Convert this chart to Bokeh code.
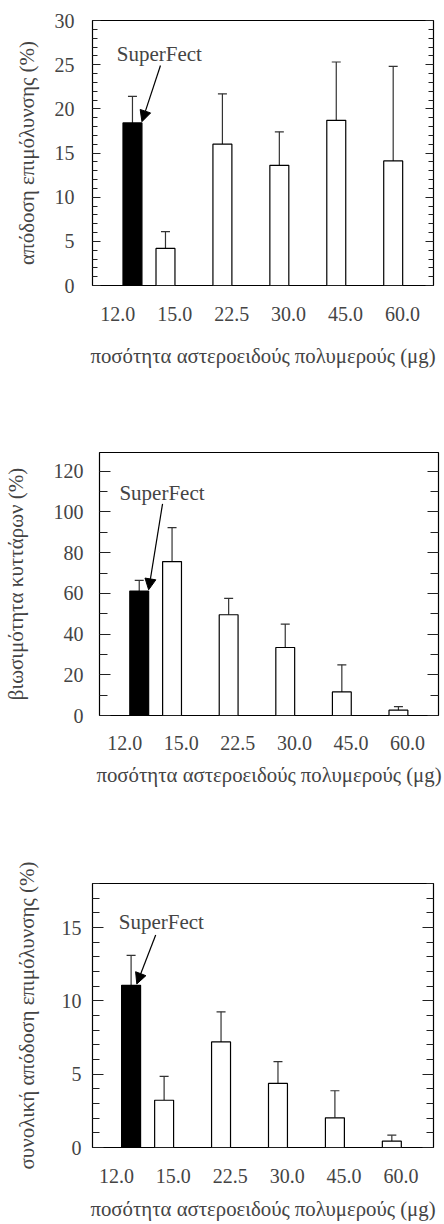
from bokeh.plotting import figure
from bokeh.layouts import column, row
from bokeh.models import (ColumnDataSource, LinearAxis, FixedTicker, SingleIntervalTicker,
                          Whisker, TeeHead, Arrow, NormalHead, Label, Range1d)
from bokeh.embed import file_html
from bokeh.resources import INLINE

# ---------------- data ----------------
doses = ["12.0", "15.0", "22.5", "30.0", "45.0", "60.0"]
x_title = "ποσότητα αστεροειδούς πολυμερούς (μg)"
ref_label = "SuperFect"

eff_title = "απόδοση επιμόλυνσης (%)"
eff = [18.4, 4.2, 16.0, 13.6, 18.7, 14.1]
eff_err = [3.0, 1.9, 5.7, 3.8, 6.6, 10.7]

viab_title = "βιωσιμότητα κυττάρων (%)"
viab = [61.1, 75.6, 49.5, 33.4, 11.6, 2.6]
viab_err = [5.3, 16.7, 8.0, 11.5, 13.3, 1.8]

tot_title = "συνολική απόδοση επιμόλυνσης (%)"
tot = [11.06, 3.22, 7.2, 4.37, 2.02, 0.43]
tot_err = [2.04, 1.63, 2.05, 1.48, 1.85, 0.41]

FONT = "Liberation Serif, Times New Roman, serif"
TICK_FS = "20px"
YTITLE_FS = "21px"
XTITLE_FS = "20.8px"
ANN_FS = "21px"

BAR_W = 0.333
REF_OFF = 0.258
OTHER_OFF = -0.162
XSPAN = 5.99


def panel(vals, errs, ytitle, ymax, interval, nminor, height, borders, xstart,
          tick_major, tick_minor, ystand, ylab_stand, xstand, xlab_stand,
          text_xy, arrow_start, tip_dx):
    top_b, bottom_b, left_b, right_b = borders
    p = figure(width=444, height=height, output_backend="svg", toolbar_location=None,
               x_range=Range1d(xstart, xstart + XSPAN), y_range=Range1d(0, ymax),
               x_axis_type=None, y_axis_type=None,
               min_border_top=top_b, min_border_bottom=bottom_b,
               min_border_left=left_b, min_border_right=right_b)
    p.outline_line_color = "black"
    p.outline_line_width = 1.2
    p.background_fill_color = "white"
    p.border_fill_color = "white"

    xs = [i + (REF_OFF if i == 0 else OTHER_OFF) for i in range(len(doses))]
    fills = ["black" if i == 0 else "white" for i in range(len(doses))]
    src = ColumnDataSource(dict(x=xs, top=vals, upper=[v + e for v, e in zip(vals, errs)],
                                fill=fills))
    w = Whisker(source=src, base="x", lower="top", upper="upper", dimension="height",
                line_color="#333333", line_width=1.2,
                upper_head=TeeHead(size=9, line_color="#333333", line_width=1.2),
                lower_head=None)
    p.add_layout(w)
    p.vbar(x="x", top="top", bottom=0, width=BAR_W, source=src, fill_color="fill",
           line_color="black", line_width=1.2)

    ticker = SingleIntervalTicker(interval=interval, num_minor_ticks=nminor)
    yl = LinearAxis(ticker=ticker, axis_label=ytitle,
                    axis_label_text_font=FONT, axis_label_text_font_size=YTITLE_FS,
                    axis_label_text_font_style="normal",
                    major_label_text_font=FONT, major_label_text_font_size=TICK_FS,
                    major_tick_in=tick_major, major_tick_out=0,
                    minor_tick_in=tick_minor, minor_tick_out=0,
                    major_tick_line_color="#222222", minor_tick_line_color="#222222",
                    major_label_standoff=ystand, axis_label_standoff=ylab_stand,
                    axis_line_color=None)
    p.add_layout(yl, "left")
    yr = LinearAxis(ticker=ticker, major_label_text_font_size="1px",
                    major_label_text_color=None,
                    major_tick_in=tick_major, major_tick_out=0,
                    minor_tick_in=tick_minor, minor_tick_out=0,
                    major_tick_line_color="#222222", minor_tick_line_color="#222222",
                    major_label_standoff=0, axis_line_color=None)
    p.add_layout(yr, "right")

    xl = LinearAxis(ticker=FixedTicker(ticks=list(range(len(doses)))),
                    major_label_overrides={i: d for i, d in enumerate(doses)},
                    axis_label=x_title, axis_label_text_font=FONT,
                    axis_label_text_font_size=XTITLE_FS, axis_label_text_font_style="normal",
                    major_label_text_font=FONT, major_label_text_font_size=TICK_FS,
                    major_tick_in=0, major_tick_out=0, minor_tick_in=0, minor_tick_out=0,
                    major_label_standoff=xstand, axis_label_standoff=xlab_stand,
                    axis_line_color=None)
    p.add_layout(xl, "below")
    p.xgrid.visible = False
    p.ygrid.visible = False

    tx, ty = text_xy
    ax, ay = arrow_start
    p.add_layout(Label(x=tx, y=ymax * ty, text=ref_label, text_font=FONT,
                       text_font_size=ANN_FS, text_align="center", text_baseline="middle"))
    p.add_layout(Arrow(x_start=ax, y_start=ymax * ay, x_end=xs[0] + tip_dx,
                       y_end=vals[0] + ymax * 0.005,
                       line_color="black", line_width=1.2,
                       end=NormalHead(size=11, fill_color="black", line_color="black")))
    return p


p1 = panel(eff, eff_err, eff_title, 30, 5, 5, 380, (20, 95, 92, 11), -0.444, 8, 5,
           18, 13, 21, 20, (0.73, 0.873), (0.75, 0.83), BAR_W / 2)
p2 = panel(viab, viab_err, viab_title, 129.2, 20, 2, 430, (72, 95, 97, 6), -0.444, 11, 8,
           16, 23, 20, 10, (0.66, 0.845), (0.67, 0.805), BAR_W / 2)
p3 = panel(tot, tot_err, tot_title, 18, 5, 5, 414, (73, 77, 92, 11), -0.42, 11, 7,
           11, 20, 21, 11, (0.79, 0.855), (0.69, 0.805), 0.1)

layout = column(p1, row(p2), p3, spacing=0)
open("out.html", "w").write(file_html(layout, INLINE))
